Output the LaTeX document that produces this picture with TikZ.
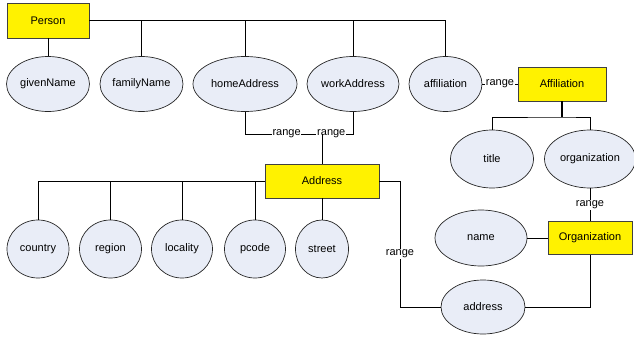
\documentclass[tikz,border=0pt]{standalone}
\usepackage{fontspec}
\setmainfont{Liberation Sans}
\usetikzlibrary{shapes.geometric}
\definecolor{attrfill}{HTML}{E9EDF7}
\definecolor{edgegrey}{HTML}{404040}
\begin{document}
\begin{tikzpicture}[x=1pt,y=-1pt,
  font=\fontsize{11}{13}\selectfont,
  every path/.style={line width=0.8pt},
  cls/.style={draw=edgegrey, fill=yellow, rectangle, inner sep=0pt, line width=0.9pt},
  attr/.style={draw=black!85, fill=attrfill, ellipse, inner sep=0pt, line width=0.7pt},
  lbl/.style={fill=white, inner sep=0.8pt},
  trunk/.style={line width=1.5pt}]
\useasboundingbox (0,0) rectangle (634,337);

% classes
\node[cls, minimum width=82, minimum height=35] (Person) at (48,20.5) {Person};
\node[cls, minimum width=88, minimum height=34] (Affiliation) at (562,84) {Affiliation};
\node[cls, minimum width=114, minimum height=34] (Address) at (322,181) {Address};
\node[cls, minimum width=84, minimum height=33] (Organization) at (590,238) {Organization};

% properties of Person
\node[attr, minimum width=83, minimum height=55] (givenName) at (48,84) {givenName};
\node[attr, minimum width=83, minimum height=55] (familyName) at (141.5,84) {familyName};
\node[attr, minimum width=104, minimum height=55] (homeAddress) at (245,84) {homeAddress};
\node[attr, minimum width=92, minimum height=55] (workAddress) at (353,84) {workAddress};
\node[attr, minimum width=73, minimum height=55] (affiliation) at (445.5,84) {affiliation};

% properties of Affiliation
\node[attr, minimum width=83, minimum height=58] (title) at (492,159) {title};
\node[attr, minimum width=91, minimum height=58] (organization) at (590,159) {organization};

% properties of Address
\node[attr, minimum width=62, minimum height=58] (country) at (38,249) {country};
\node[attr, minimum width=62, minimum height=58] (region) at (110.5,249) {region};
\node[attr, minimum width=61, minimum height=58] (locality) at (182,249) {locality};
\node[attr, minimum width=61, minimum height=58] (pcode) at (255,249) {pcode};
\node[attr, minimum width=53, minimum height=58] (street) at (322,249) {street};

% properties of Organization
\node[attr, minimum width=92, minimum height=56] (name) at (481,238) {name};
\node[attr, minimum width=84, minimum height=54] (address) at (483,307) {address};

% Person tree
\draw[trunk] (Person.east) -| (affiliation.north);
\draw (Person.south) -- (givenName.north);
\draw (familyName.north) -- (familyName.north |- Person.east);
\draw (homeAddress.north) -- (homeAddress.north |- Person.east);
\draw (workAddress.north) -- (workAddress.north |- Person.east);

% affiliation range
\draw (affiliation.east) -- node[lbl]{range} (Affiliation.west);

% Affiliation tree
\coordinate (affj) at (562,117);
\draw[trunk] (Affiliation.south) -- (affj);
\draw (title.north) |- (affj) -| (organization.north);

% organization range
\draw (organization.south) -- node[lbl]{range} (Organization.north);

% Organization tree
\draw (name.east) -- (Organization.west);
\draw (address.east) -| (Organization.south);

% homeAddress / workAddress ranges
\coordinate (addrj) at (322,134);
\draw (homeAddress.south) |- node[lbl, pos=0.77]{range} (addrj);
\draw (workAddress.south) |- node[lbl, pos=0.85]{range} (addrj);
\draw (Address.north) -- (addrj);

% Address tree
\draw (Address.west) -| (country.north);
\draw (region.north) -- (region.north |- Address.west);
\draw (locality.north) -- (locality.north |- Address.west);
\draw (pcode.north) -- (pcode.north |- Address.west);
\draw (Address.south) -- (street.north);

% address range
\coordinate (addrr) at (400,181);
\draw (Address.east) -- (addrr) |- node[lbl, pos=0.29]{range} (address.west);
\end{tikzpicture}
\end{document}
